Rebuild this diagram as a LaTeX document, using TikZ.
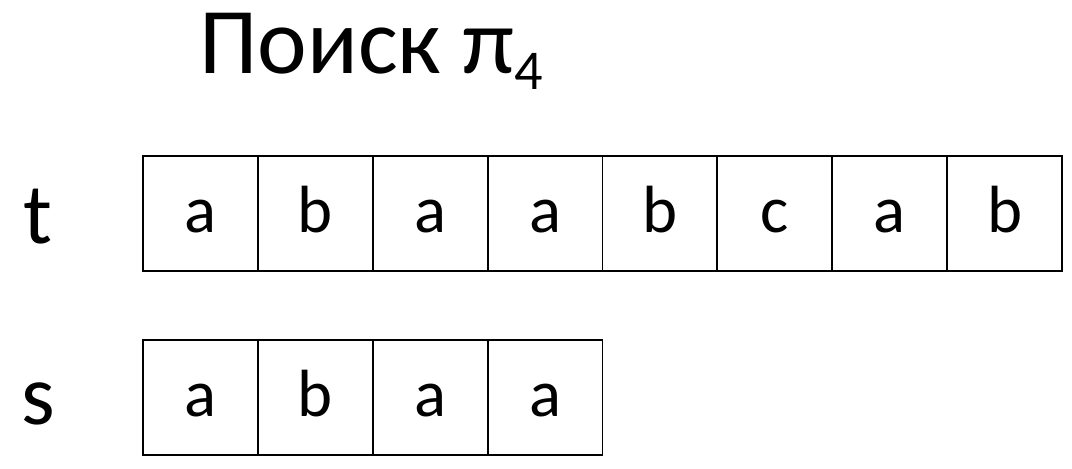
\documentclass[tikz,border=0pt]{standalone}
\usepackage{fontspec}
\setmainfont{Carlito}
\usetikzlibrary{positioning}

\tikzset{
  cell/.style={draw, line width=1.1pt, minimum width=2.297cm, minimum height=2.3cm,
    inner sep=0pt, text height=22pt, text depth=0pt, font=\fontsize{38}{40}\selectfont},
  rowname/.style={anchor=base, font=\fontsize{49}{50}\selectfont},
}

\begin{document}
\begin{tikzpicture}[x=0.02cm, y=0.02cm]
\useasboundingbox (0,0) rectangle (1072,469);

\node[anchor=base west, inner sep=0pt, font=\fontsize{53.5}{56}\selectfont] (title) at (199,395)
  {Поиск π\raisebox{-0.16em}{\fontsize{32}{34}\selectfont 4}};

% text string
\node[rowname] (tname) at (38,225) {t};
\foreach \ch [count=\i] in {a,b,a,a,b,c,a,b}
  \node[cell] (t\i) at (143+114.875*\i-57.44,255.5) {\ch};

% pattern
\node[rowname] (sname) at (38,44) {s};
\foreach \ch [count=\i] in {a,b,a,a}
  \node[cell] (s\i) at (143+114.875*\i-57.44,71.5) {\ch};
\end{tikzpicture}
\end{document}
